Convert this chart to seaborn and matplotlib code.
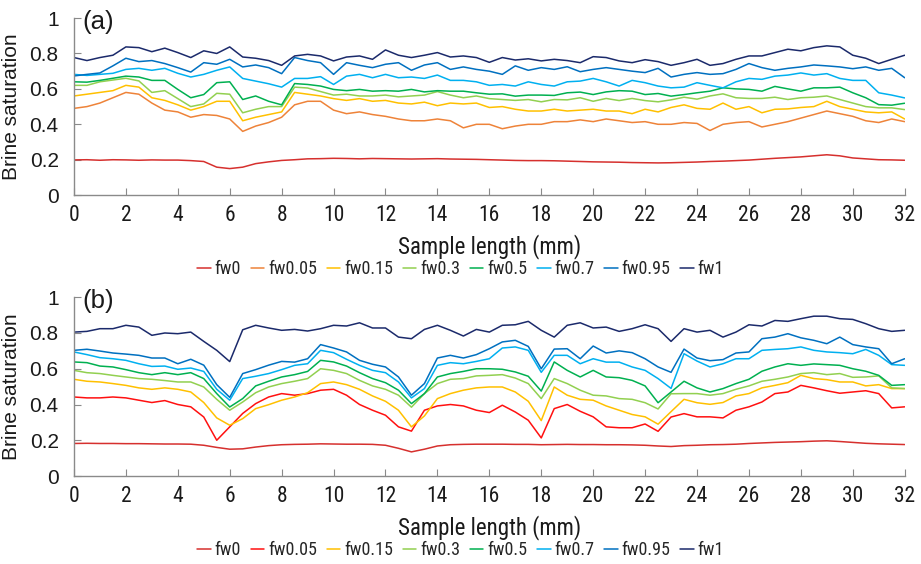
import numpy as np
import pandas as pd
import matplotlib
matplotlib.use("Agg")
import matplotlib.pyplot as plt
import seaborn as sns
from matplotlib.ticker import FuncFormatter, MultipleLocator

# sample positions along the core (mm), read every 0.5 mm
length_mm = np.arange(0, 32.01, 0.5)

series_names = ["fw0", "fw0.05", "fw0.15", "fw0.3", "fw0.5", "fw0.7", "fw0.95", "fw1"]

# -----------------------
# Panel (a)
# -----------------------
a_fw0 = [0.199, 0.200, 0.197, 0.200, 0.199, 0.197, 0.199, 0.198, 0.198, 0.195, 0.190,
         0.158, 0.150, 0.158, 0.178, 0.188, 0.196, 0.200, 0.205, 0.206, 0.208, 0.207,
         0.205, 0.207, 0.206, 0.205, 0.204, 0.205, 0.206, 0.204, 0.203, 0.202, 0.200,
         0.198, 0.196, 0.195, 0.195, 0.194, 0.192, 0.190, 0.188, 0.187, 0.186, 0.184,
         0.183, 0.182, 0.183, 0.185, 0.187, 0.190, 0.192, 0.195, 0.198, 0.203, 0.208,
         0.212, 0.216, 0.222, 0.228, 0.222, 0.210, 0.205, 0.200, 0.199, 0.197]
a_fw005 = [0.49, 0.50, 0.52, 0.55, 0.58, 0.57, 0.52, 0.48, 0.47, 0.44, 0.455,
           0.45, 0.43, 0.36, 0.39, 0.41, 0.44, 0.51, 0.53, 0.53, 0.48, 0.46,
           0.47, 0.455, 0.445, 0.43, 0.42, 0.42, 0.43, 0.42, 0.38, 0.40, 0.40,
           0.375, 0.39, 0.40, 0.40, 0.415, 0.415, 0.425, 0.415, 0.43, 0.42, 0.41,
           0.415, 0.40, 0.40, 0.41, 0.405, 0.365, 0.40, 0.41, 0.415, 0.385, 0.40,
           0.415, 0.435, 0.455, 0.475, 0.46, 0.445, 0.42, 0.41, 0.43, 0.415]
a_fw015 = [0.56, 0.57, 0.58, 0.59, 0.62, 0.61, 0.55, 0.535, 0.51, 0.48, 0.50,
           0.53, 0.53, 0.42, 0.44, 0.455, 0.47, 0.58, 0.57, 0.56, 0.545, 0.535,
           0.545, 0.53, 0.535, 0.52, 0.515, 0.525, 0.505, 0.52, 0.515, 0.52, 0.495,
           0.50, 0.485, 0.475, 0.475, 0.485, 0.475, 0.48, 0.485, 0.475, 0.475, 0.46,
           0.485, 0.47, 0.495, 0.51, 0.49, 0.485, 0.52, 0.485, 0.50, 0.465, 0.485,
           0.487, 0.495, 0.50, 0.53, 0.50, 0.485, 0.47, 0.465, 0.47, 0.43]
a_fw03 = [0.62, 0.62, 0.64, 0.65, 0.66, 0.645, 0.58, 0.59, 0.545, 0.50, 0.515,
          0.575, 0.57, 0.465, 0.485, 0.50, 0.50, 0.61, 0.605, 0.585, 0.565, 0.57,
          0.56, 0.56, 0.565, 0.555, 0.56, 0.565, 0.585, 0.565, 0.55, 0.56, 0.545,
          0.54, 0.535, 0.54, 0.527, 0.54, 0.538, 0.55, 0.53, 0.546, 0.534, 0.546,
          0.534, 0.527, 0.538, 0.553, 0.542, 0.56, 0.572, 0.55, 0.546, 0.546, 0.553,
          0.54, 0.55, 0.553, 0.56, 0.54, 0.52, 0.50, 0.493, 0.493, 0.483]
a_fw05 = [0.64, 0.638, 0.648, 0.66, 0.672, 0.667, 0.648, 0.648, 0.597, 0.55, 0.568,
          0.635, 0.64, 0.54, 0.56, 0.53, 0.51, 0.63, 0.625, 0.616, 0.597, 0.59,
          0.597, 0.587, 0.59, 0.587, 0.597, 0.583, 0.59, 0.587, 0.587, 0.578, 0.57,
          0.572, 0.559, 0.565, 0.565, 0.563, 0.578, 0.582, 0.568, 0.583, 0.59, 0.587,
          0.568, 0.574, 0.559, 0.568, 0.578, 0.587, 0.606, 0.60, 0.597, 0.587, 0.614,
          0.60, 0.587, 0.606, 0.606, 0.61, 0.578, 0.55, 0.511, 0.508, 0.519]
a_fw07 = [0.682, 0.676, 0.682, 0.688, 0.71, 0.716, 0.705, 0.716, 0.688, 0.667, 0.682,
          0.705, 0.724, 0.659, 0.644, 0.629, 0.61, 0.659, 0.659, 0.669, 0.625, 0.672,
          0.682, 0.663, 0.682, 0.663, 0.667, 0.659, 0.678, 0.648, 0.648, 0.64, 0.62,
          0.625, 0.616, 0.64, 0.625, 0.616, 0.64, 0.644, 0.659, 0.64, 0.616, 0.648,
          0.635, 0.616, 0.606, 0.61, 0.635, 0.62, 0.606, 0.64, 0.659, 0.654, 0.672,
          0.678, 0.69, 0.678, 0.686, 0.659, 0.648, 0.648, 0.578, 0.565, 0.549]
a_fw095 = [0.673, 0.682, 0.69, 0.73, 0.773, 0.754, 0.76, 0.743, 0.72, 0.695, 0.748,
           0.739, 0.767, 0.724, 0.735, 0.72, 0.686, 0.777, 0.76, 0.748, 0.682, 0.748,
           0.733, 0.72, 0.739, 0.748, 0.705, 0.735, 0.748, 0.71, 0.724, 0.71, 0.70,
           0.682, 0.73, 0.705, 0.72, 0.71, 0.725, 0.697, 0.71, 0.72, 0.71, 0.70,
           0.692, 0.716, 0.667, 0.682, 0.692, 0.682, 0.686, 0.71, 0.743, 0.72, 0.705,
           0.716, 0.724, 0.735, 0.73, 0.724, 0.714, 0.724, 0.705, 0.716, 0.663]
a_fw1 = [0.777, 0.76, 0.777, 0.79, 0.837, 0.833, 0.81, 0.83, 0.805, 0.777, 0.815,
         0.80, 0.837, 0.78, 0.773, 0.76, 0.733, 0.786, 0.795, 0.786, 0.758, 0.78,
         0.786, 0.767, 0.82, 0.79, 0.777, 0.79, 0.805, 0.78, 0.786, 0.777, 0.75,
         0.777, 0.763, 0.77, 0.758, 0.767, 0.76, 0.748, 0.782, 0.777, 0.758, 0.748,
         0.765, 0.754, 0.733, 0.748, 0.767, 0.733, 0.743, 0.767, 0.786, 0.786, 0.805,
         0.824, 0.815, 0.833, 0.843, 0.837, 0.79, 0.773, 0.743, 0.767, 0.79]

# -----------------------
# Panel (b)
# -----------------------
b_fw0 = [0.182, 0.183, 0.182, 0.182, 0.181, 0.181, 0.180, 0.179, 0.179, 0.178, 0.172,
         0.160, 0.150, 0.152, 0.162, 0.170, 0.175, 0.177, 0.178, 0.180, 0.179, 0.178,
         0.178, 0.177, 0.172, 0.155, 0.135, 0.150, 0.168, 0.175, 0.177, 0.178, 0.178,
         0.178, 0.177, 0.177, 0.175, 0.176, 0.177, 0.176, 0.176, 0.175, 0.175, 0.174,
         0.172, 0.168, 0.165, 0.170, 0.172, 0.175, 0.176, 0.178, 0.182, 0.185, 0.188,
         0.190, 0.192, 0.195, 0.197, 0.193, 0.188, 0.183, 0.180, 0.178, 0.176]
b_fw005 = [0.442, 0.437, 0.437, 0.442, 0.437, 0.424, 0.411, 0.422, 0.40, 0.387, 0.33,
           0.20, 0.275, 0.35, 0.405, 0.442, 0.461, 0.452, 0.461, 0.48, 0.485, 0.452,
           0.40, 0.368, 0.34, 0.275, 0.251, 0.368, 0.392, 0.40, 0.392, 0.368, 0.355,
           0.396, 0.358, 0.312, 0.213, 0.377, 0.40, 0.362, 0.331, 0.275, 0.27, 0.27,
           0.291, 0.25, 0.33, 0.349, 0.331, 0.331, 0.325, 0.368, 0.387, 0.414, 0.461,
           0.47, 0.507, 0.493, 0.477, 0.463, 0.47, 0.477, 0.461, 0.381, 0.387]
b_fw015 = [0.541, 0.53, 0.526, 0.517, 0.507, 0.493, 0.485, 0.493, 0.485, 0.47, 0.411,
           0.325, 0.284, 0.321, 0.377, 0.399, 0.424, 0.442, 0.466, 0.517, 0.526, 0.511,
           0.485, 0.448, 0.418, 0.368, 0.275, 0.336, 0.433, 0.461, 0.48, 0.493, 0.498,
           0.498, 0.47, 0.418, 0.31, 0.498, 0.452, 0.429, 0.424, 0.392, 0.368, 0.344,
           0.331, 0.29, 0.36, 0.429, 0.41, 0.401, 0.411, 0.448, 0.461, 0.493, 0.507,
           0.522, 0.563, 0.545, 0.539, 0.526, 0.526, 0.504, 0.511, 0.489, 0.489]
b_fw03 = [0.591, 0.578, 0.573, 0.563, 0.554, 0.545, 0.541, 0.534, 0.526, 0.526, 0.498,
          0.429, 0.368, 0.414, 0.466, 0.498, 0.517, 0.53, 0.545, 0.60, 0.591, 0.573,
          0.535, 0.504, 0.485, 0.452, 0.385, 0.461, 0.517, 0.541, 0.545, 0.56, 0.563,
          0.567, 0.548, 0.517, 0.433, 0.545, 0.517, 0.48, 0.452, 0.448, 0.433, 0.429,
          0.41, 0.375, 0.46, 0.461, 0.461, 0.452, 0.461, 0.485, 0.504, 0.53, 0.541,
          0.554, 0.573, 0.578, 0.567, 0.573, 0.552, 0.554, 0.56, 0.493, 0.489]
b_fw05 = [0.638, 0.634, 0.615, 0.61, 0.595, 0.578, 0.567, 0.578, 0.567, 0.578, 0.545,
          0.461, 0.386, 0.433, 0.504, 0.53, 0.554, 0.567, 0.585, 0.647, 0.638, 0.615,
          0.578, 0.545, 0.522, 0.48, 0.405, 0.461, 0.554, 0.573, 0.585, 0.60, 0.60,
          0.597, 0.582, 0.558, 0.475, 0.638, 0.591, 0.554, 0.591, 0.554, 0.55, 0.535,
          0.504, 0.41, 0.47, 0.53, 0.493, 0.47, 0.489, 0.517, 0.541, 0.586, 0.61,
          0.628, 0.619, 0.627, 0.623, 0.619, 0.60, 0.586, 0.563, 0.507, 0.511]
b_fw07 = [0.694, 0.679, 0.662, 0.656, 0.647, 0.628, 0.613, 0.615, 0.597, 0.604, 0.585,
          0.485, 0.424, 0.545, 0.558, 0.573, 0.595, 0.619, 0.628, 0.703, 0.69, 0.653,
          0.619, 0.591, 0.578, 0.526, 0.437, 0.489, 0.619, 0.634, 0.628, 0.641, 0.656,
          0.716, 0.722, 0.703, 0.58, 0.675, 0.675, 0.628, 0.656, 0.637, 0.637, 0.61,
          0.591, 0.545, 0.49, 0.684, 0.643, 0.61, 0.628, 0.656, 0.656, 0.703, 0.708,
          0.712, 0.722, 0.703, 0.694, 0.69, 0.684, 0.708, 0.675, 0.623, 0.619]
b_fw095 = [0.703, 0.709, 0.699, 0.688, 0.682, 0.675, 0.66, 0.66, 0.628, 0.653, 0.62,
           0.511, 0.44, 0.573, 0.595, 0.62, 0.641, 0.637, 0.656, 0.735, 0.716, 0.694,
           0.647, 0.625, 0.61, 0.554, 0.452, 0.517, 0.66, 0.675, 0.66, 0.679, 0.712,
           0.75, 0.759, 0.725, 0.60, 0.71, 0.712, 0.656, 0.727, 0.688, 0.70, 0.69,
           0.656, 0.61, 0.58, 0.71, 0.66, 0.645, 0.651, 0.688, 0.694, 0.768, 0.777,
           0.796, 0.773, 0.759, 0.74, 0.777, 0.735, 0.722, 0.712, 0.628, 0.656]
b_fw1 = [0.805, 0.809, 0.824, 0.824, 0.843, 0.833, 0.787, 0.80, 0.796, 0.805, 0.753,
         0.703, 0.64, 0.818, 0.843, 0.828, 0.815, 0.82, 0.811, 0.824, 0.843, 0.839,
         0.857, 0.828, 0.828, 0.777, 0.768, 0.82, 0.843, 0.815, 0.783, 0.82, 0.805,
         0.843, 0.846, 0.865, 0.815, 0.777, 0.843, 0.857, 0.828, 0.833, 0.809, 0.824,
         0.846, 0.824, 0.753, 0.824, 0.805, 0.815, 0.777, 0.805, 0.846, 0.839, 0.87,
         0.865, 0.88, 0.894, 0.894, 0.88, 0.876, 0.852, 0.824, 0.809, 0.815]

colors_a = ["#d6302e", "#ee8339", "#ffc000", "#92d050", "#00b050", "#00b0f0", "#0070c0", "#1b2a6b"]
colors_b = ["#d6302e", "#ff1010", "#ffc000", "#92d050", "#00b050", "#00b0f0", "#0070c0", "#1b2a6b"]


def to_long(columns):
    frames = []
    for name, values in zip(series_names, columns):
        frames.append(pd.DataFrame({"length": length_mm, "sat": values, "series": name}))
    return pd.concat(frames, ignore_index=True)


df_a = to_long([a_fw0, a_fw005, a_fw015, a_fw03, a_fw05, a_fw07, a_fw095, a_fw1])
df_b = to_long([b_fw0, b_fw005, b_fw015, b_fw03, b_fw05, b_fw07, b_fw095, b_fw1])

sns.set_style("ticks")
plt.rcParams["font.family"] = ["Liberation Sans", "DejaVu Sans"]
narrow = ["Roboto Condensed", "Archivo Narrow", "Liberation Sans"]

fig = plt.figure(figsize=(9.21, 5.64), dpi=100)
ax_a = fig.add_axes([0.0803, 0.654, 0.902, 0.314])
ax_b = fig.add_axes([0.0803, 0.156, 0.902, 0.317])

panels = [
    (ax_a, df_a, colors_a, "(a)", 0.523),
    (ax_b, df_b, colors_b, "(b)", 0.025),
]

for ax, df, colors, tag, leg_y in panels:
    sns.lineplot(
        data=df,
        x="length",
        y="sat",
        hue="series",
        hue_order=series_names,
        palette=colors,
        estimator=None,
        linewidth=1.1,
        ax=ax
    )

    ax.set_xlim(0, 32)
    ax.set_ylim(0, 1)
    ax.xaxis.set_major_locator(MultipleLocator(2))
    ax.yaxis.set_major_locator(MultipleLocator(0.2))
    ax.yaxis.set_major_formatter(FuncFormatter(lambda v, p: f"{v:g}"))

    for side in ["top", "right"]:
        ax.spines[side].set_visible(False)
    for side in ["left", "bottom"]:
        ax.spines[side].set_color("#8a8a8a")
        ax.spines[side].set_linewidth(1.0)

    ax.tick_params(axis="both", direction="in", length=5, color="#8a8a8a", labelcolor="#1a1a1a")
    ax.tick_params(axis="y", pad=11, labelsize=15)
    ax.tick_params(axis="x", pad=7, labelsize=15.5)
    for lab in ax.get_xticklabels():
        lab.set_family(narrow)

    ax.set_ylabel("Brine saturation", fontsize=15, color="#1a1a1a", labelpad=6)
    ax.set_xlabel("Sample length (mm)", fontsize=16.5, family=narrow, color="#1a1a1a", labelpad=6)

    ax.text(0.01, 1.045, tag, transform=ax.transAxes, va="top", ha="left",
            fontsize=18.5, color="#1a1a1a")

    sns.move_legend(
        ax, "center",
        bbox_to_anchor=(0.5, leg_y),
        bbox_transform=fig.transFigure,
        ncol=8,
        frameon=False,
        title=None,
        handlelength=0.75,
        handletextpad=0.2,
        columnspacing=0.55,
        prop={"family": narrow, "size": 13}
    )

fig.savefig("out.png", dpi=100)
plt.close(fig)
